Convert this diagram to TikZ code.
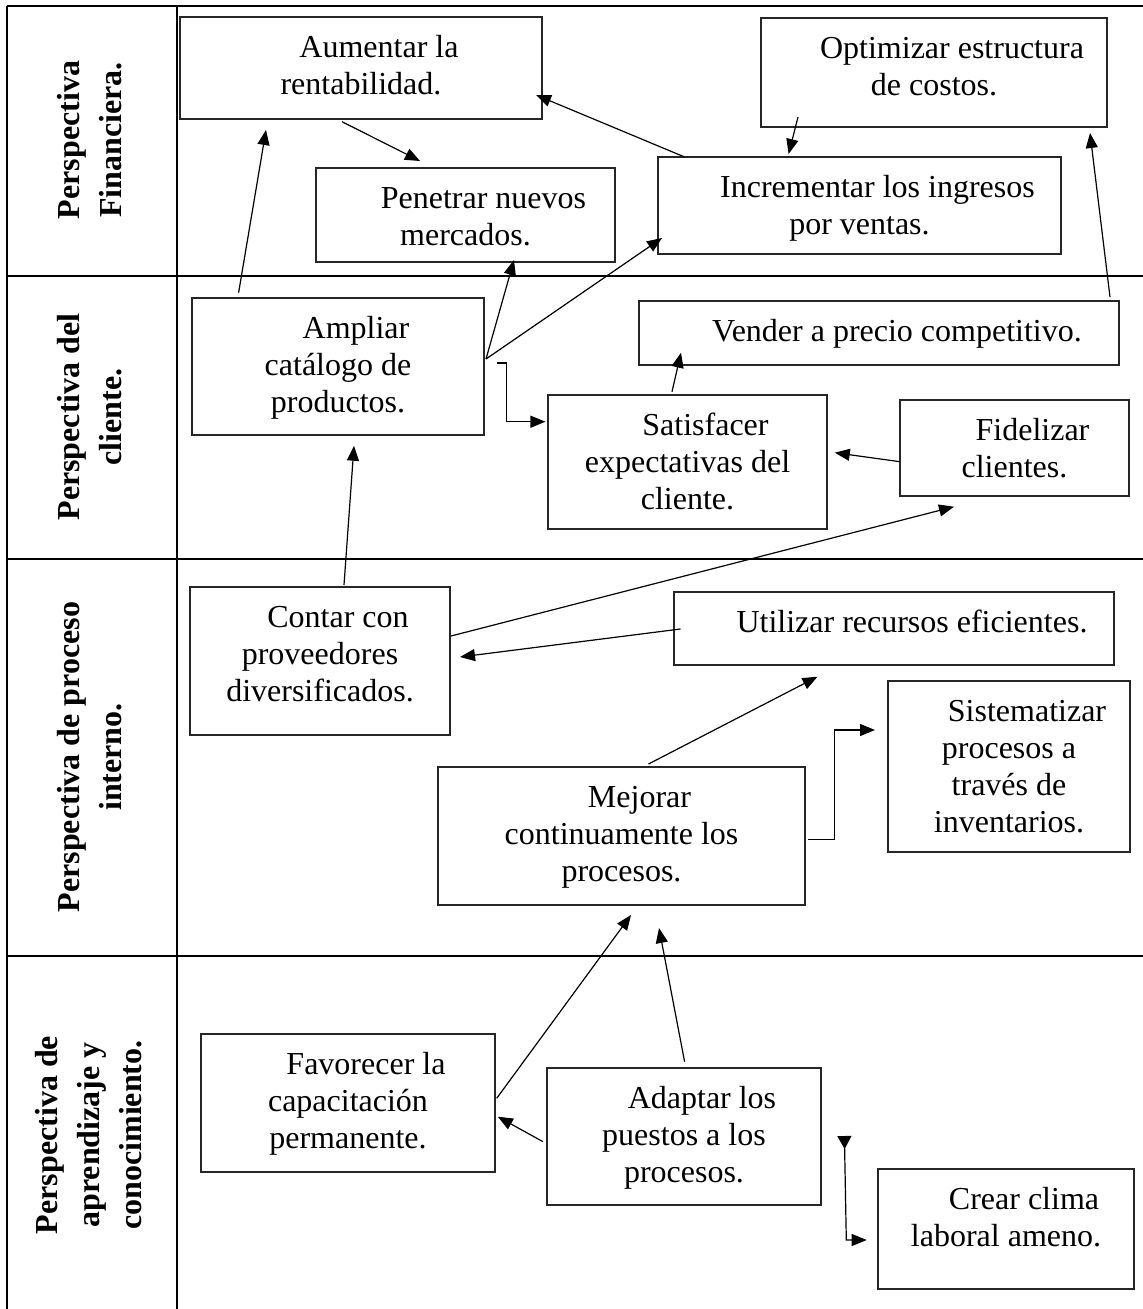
\documentclass[tikz,border=0pt]{standalone}
\usepackage{fontspec}
\setmainfont{Liberation Serif}
\usetikzlibrary{arrows.meta,calc}
\tikzset{
 boxst/.style={draw=black!85, line width=1.2pt, inner sep=0pt, outer sep=0pt, rectangle},
 txt/.style={font=\fontsize{32}{37}\selectfont, align=center, inner sep=0pt},
 lab/.style={font=\fontsize{32}{42}\selectfont\bfseries, align=center, rotate=90, inner sep=0pt},
 arr/.style={line width=1.2pt, -{Triangle[length=15pt,width=12pt]}},
 ln/.style={line width=1.2pt},
 gridln/.style={line width=2.6pt}
}
\newcommand{\fs}{\rule{0pt}{26pt}}
\newcommand{\ind}{\hspace*{36pt}}
\newcommand{\mybox}[6]{%
 \node[boxst, minimum width={#4-#2}, minimum height={#5-#3}, anchor=north west] (#1) at (#2,#3) {};
 \node[txt, anchor=north] (#1-t) at ([yshift=-14pt]#1.north) {#6};
}
\begin{document}
\begin{tikzpicture}[x=1pt,y=-1pt]
\useasboundingbox (0,0) rectangle (1143,1309);
% table
\draw[gridln] (7,6) -- (1143,6);
\draw[gridln] (7,6) -- (7,1309);
\draw[gridln] (177,6) -- (177,1309);
\draw[gridln] (7,276) -- (1143,276);
\draw[gridln] (7,559) -- (1143,559);
\draw[gridln] (7,956) -- (1143,956);
% row labels
\node[lab] (l1) at (90,140) {Perspectiva\\Financiera.};
\node[lab] (l2) at (90,417) {Perspectiva del\\cliente.};
\node[lab] (l3) at (90,757) {Perspectiva de proceso\\interno.};
\node[lab] (l4) at (89,1135) {Perspectiva de\\aprendizaje y\\conocimiento.};
% boxes
\mybox{aum}{180}{17}{542}{119}{\fs\ind Aumentar la\\rentabilidad.}
\mybox{opt}{761}{18}{1107}{127}{\fs\ind Optimizar estructura\\de costos.}
\mybox{pen}{316}{168}{615}{262}{\fs\ind Penetrar nuevos\\mercados.}
\mybox{inc}{658}{157}{1061}{254}{\fs\ind Incrementar los ingresos\\por ventas.}
\mybox{amp}{192}{298}{484}{435}{\fs\ind Ampliar\\catálogo de\\productos.}
\mybox{ven}{639}{301}{1119}{365}{\fs\ind Vender a precio competitivo.}
\mybox{sat}{548}{395}{827}{529}{\fs\ind Satisfacer\\expectativas del\\cliente.}
\mybox{fid}{900}{400}{1129}{496}{\fs\ind Fidelizar\\clientes.}
\mybox{con}{190}{587}{450}{735}{\fs\ind Contar con\\proveedores\\diversificados.}
\mybox{uti}{674}{592}{1114}{665}{\fs\ind Utilizar recursos eficientes.}
\mybox{sis}{888}{681}{1130}{852}{\fs\ind Sistematizar\\procesos a\\través de\\inventarios.}
\mybox{mej}{438}{767}{805}{905}{\fs\ind Mejorar\\continuamente los\\procesos.}
\mybox{fav}{201}{1034}{495}{1172}{\fs\ind Favorecer la\\capacitación\\permanente.}
\mybox{ada}{547}{1068}{821}{1205}{\fs\ind Adaptar los\\puestos a los\\procesos.}
\mybox{cre}{878}{1169}{1134}{1289}{\fs\ind Crear clima\\laboral ameno.}
% connector end points
\coordinate (a1s) at (238.6,292.7); \coordinate (a1e) at (266,130);
\coordinate (a2s) at (342,121.7);   \coordinate (a2e) at (420,161);
\coordinate (a3s) at (684.6,157);   \coordinate (a3e) at (536,95);
\coordinate (a4s) at (798,117);     \coordinate (a4e) at (788.6,154);
\coordinate (a5s) at (486,359);     \coordinate (a5e) at (514,260);
\coordinate (a6e) at (662,238);
\coordinate (a7s) at (1110,297);    \coordinate (a7e) at (1090,133);
\coordinate (a8s) at (497,363);     \coordinate (a8m1) at (506.6,363);
\coordinate (a8m2) at (506.6,421.7);\coordinate (a8e) at (545.4,421.7);
\coordinate (a9s) at (672,391.7);   \coordinate (a9e) at (681,352.7);
\coordinate (a10s) at (900,461.7);  \coordinate (a10e) at (834.8,452.7);
\coordinate (a11s) at (344,585);    \coordinate (a11e) at (354,445.7);
\coordinate (a12s) at (451,636);    \coordinate (a12e) at (954,506.7);
\coordinate (a13s) at (680.5,629);  \coordinate (a13e) at (460,657);
\coordinate (a14s) at (648.5,764);  \coordinate (a14e) at (817.5,676.7);
\coordinate (a15s) at (808,839.3);  \coordinate (a15m1) at (834.4,839.3);
\coordinate (a15m2) at (834.4,730); \coordinate (a15e) at (875,730);
\coordinate (a16s) at (496.7,1098.3); \coordinate (a16e) at (631,915);
\coordinate (a17s) at (684.6,1061.7); \coordinate (a17e) at (659,928);
\coordinate (a18s) at (543,1141.7); \coordinate (a18e) at (497.8,1116.7);
\coordinate (a19s) at (844.4,1136); \coordinate (a19m) at (846.3,1240);
\coordinate (a19e) at (866.7,1240);
% connectors
\draw[arr] (a1s) -- (a1e);
\draw[arr] (a2s) -- (a2e);
\draw[arr] (a3s) -- (a3e);
\draw[arr] (a4s) -- (a4e);
\draw[arr] (a5s) -- (a5e);
\draw[arr] (a5s) -- (a6e);
\draw[arr] (a7s) -- (a7e);
\draw[arr] (a8s) -- (a8m1) -- (a8m2) -- (a8e);
\draw[arr] (a9s) -- (a9e);
\draw[arr] (a10s) -- (a10e);
\draw[arr] (a11s) -- (a11e);
\draw[arr] (a12s) -- (a12e);
\draw[arr] (a13s) -- (a13e);
\draw[arr] (a14s) -- (a14e);
\draw[arr] (a15s) -- (a15m1) -- (a15m2) -- (a15e);
\draw[arr] (a16s) -- (a16e);
\draw[arr] (a17s) -- (a17e);
\draw[arr] (a18s) -- (a18e);
\draw[ln, {Triangle[reversed,length=13pt,width=14pt]}-{Triangle[length=15pt,width=12pt]}] (a19s) -- (a19m) -- (a19e);
\end{tikzpicture}
\end{document}
